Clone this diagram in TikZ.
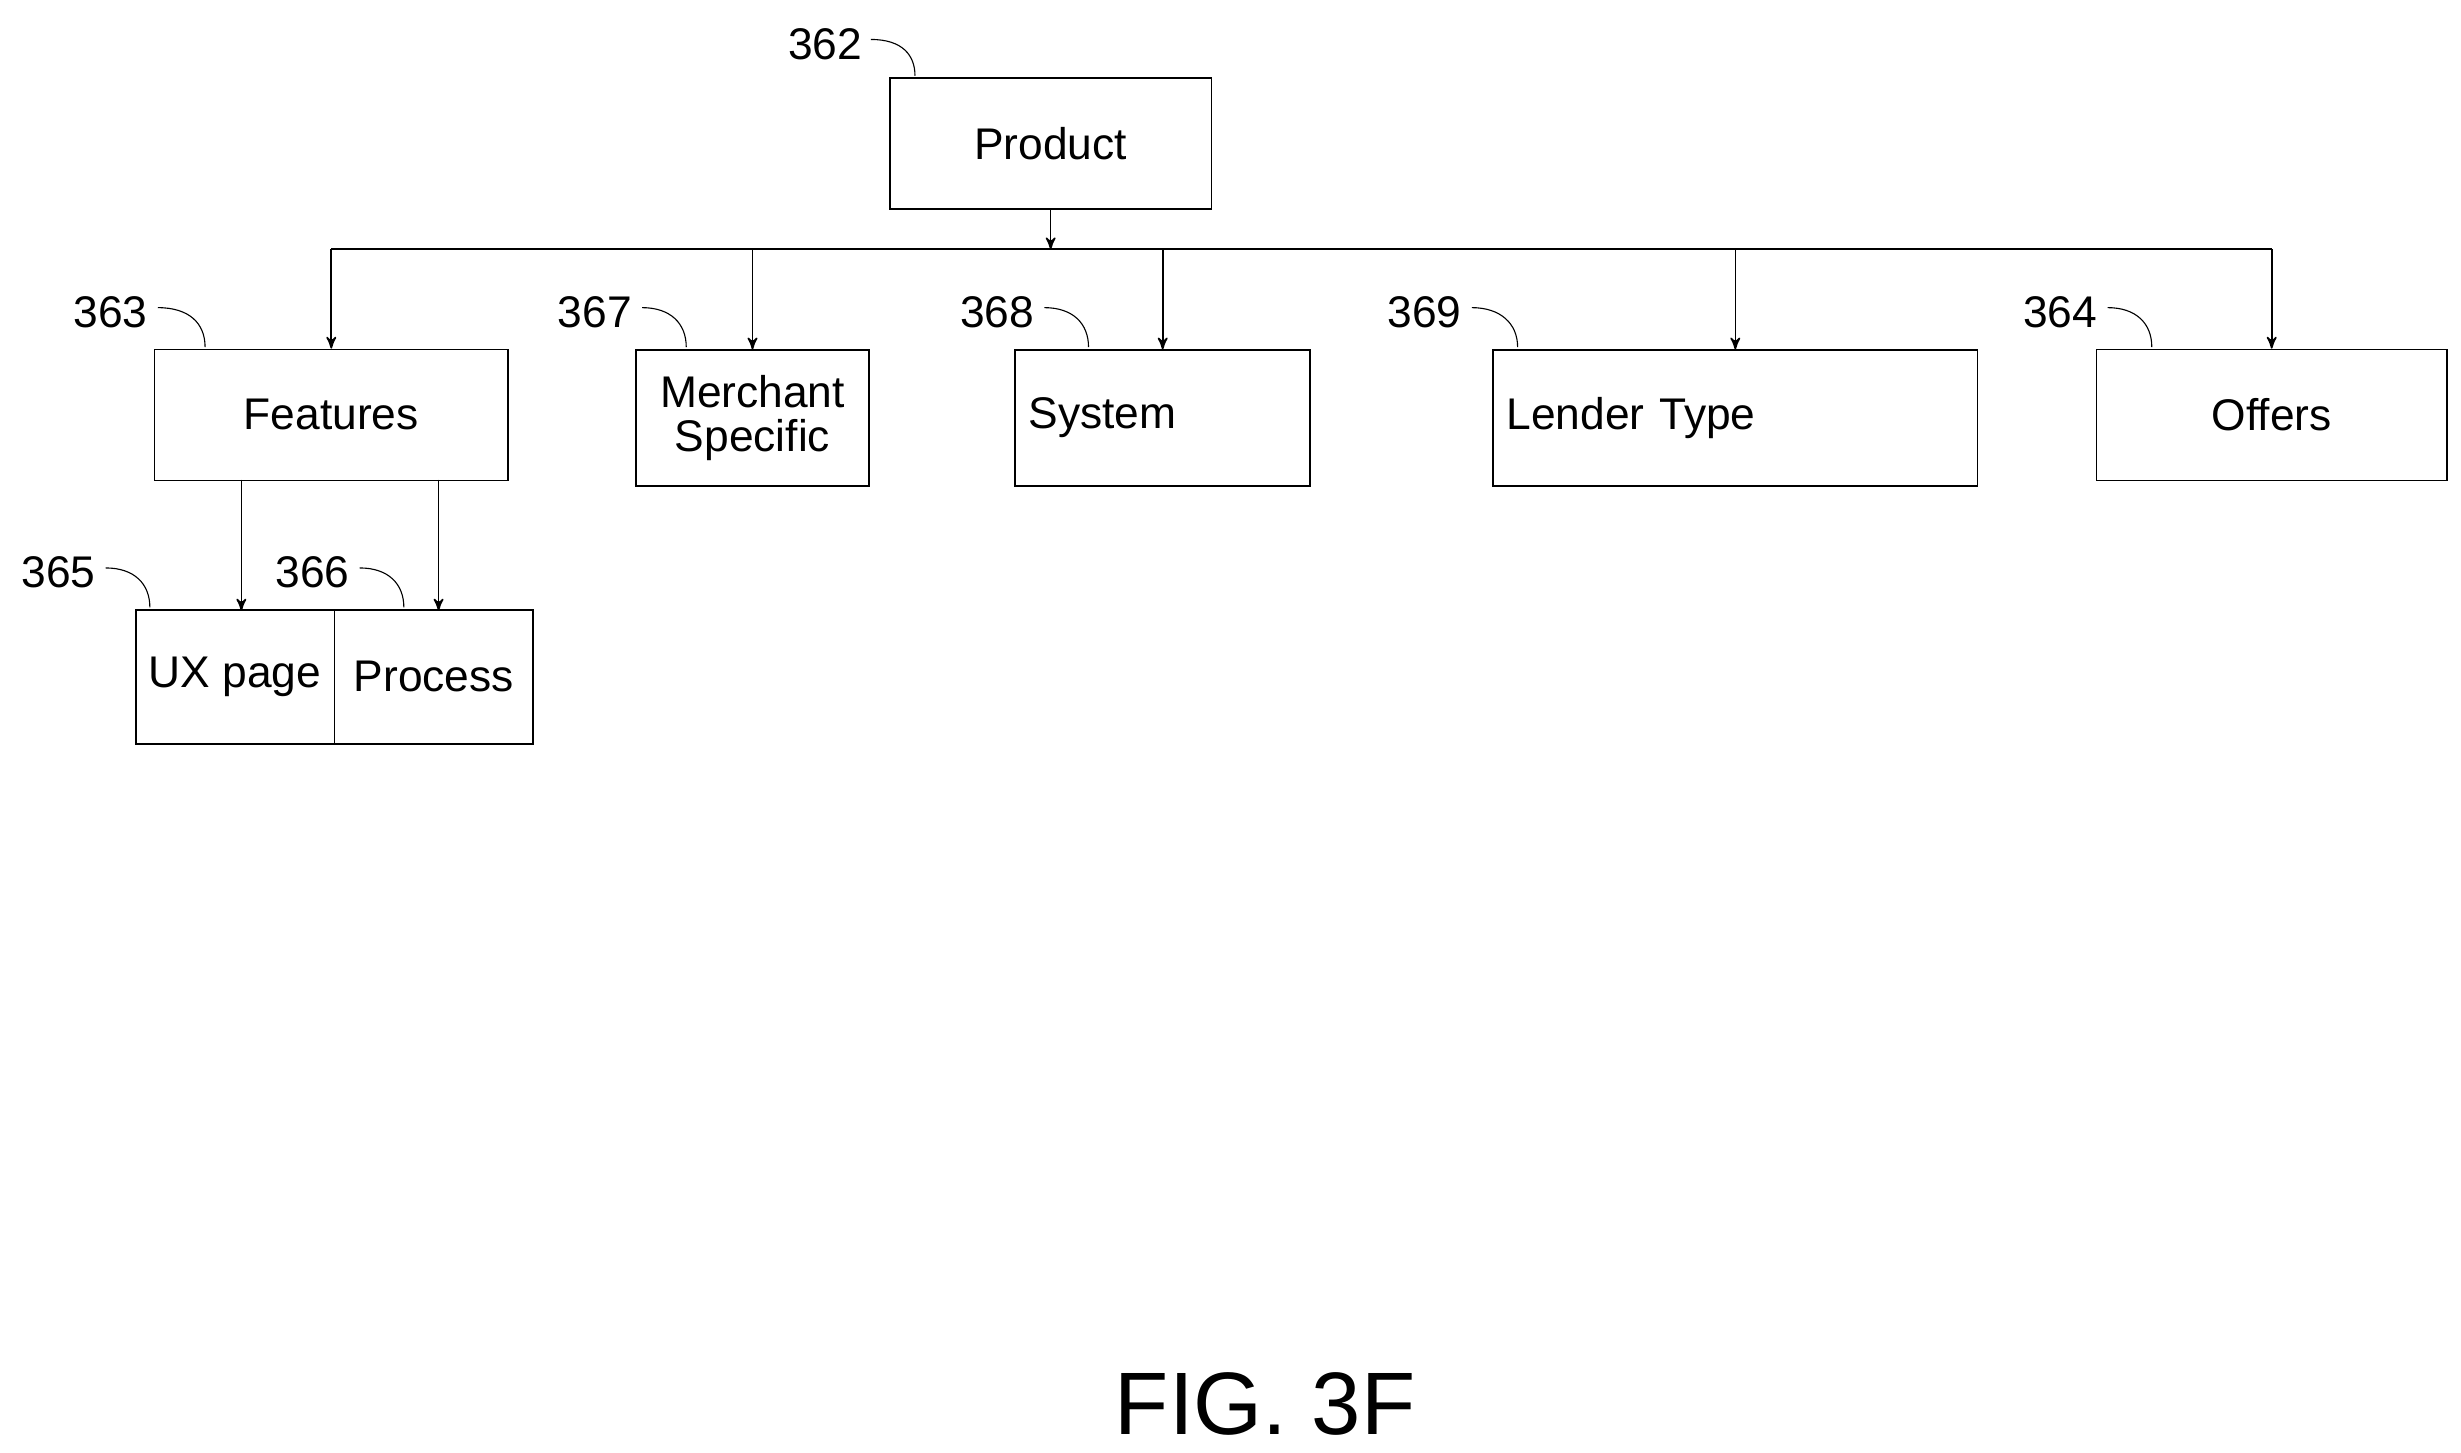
\documentclass[tikz,border=0pt]{standalone}
\usepackage{fontspec}
\setmainfont{Liberation Sans}
\usetikzlibrary{arrows,positioning}

\begin{document}
\begin{tikzpicture}[->,>=stealth',x=0.02cm,y=-0.02cm,semithick,
                    font=\fontsize{16}{18}\selectfont]

  \tikzstyle{box}=[rectangle,draw,semithick,minimum height=1.66cm,inner sep=2pt,align=center]
  \tikzstyle{ref}=[-,thin]

  \useasboundingbox (0,0) rectangle (1560,921);

  \node[box,minimum width=4.08cm] (prod) at (666,91)  {Product};
  \node[box,minimum width=4.48cm] (feat) at (210,263) {Features};
  \node[box,minimum width=2.96cm,minimum height=1.72cm,font=\fontsize{16}{16}\selectfont] (merch) at (477,265) {Merchant\\Specific};
  \node[box,minimum width=3.74cm,minimum height=1.72cm,text width=3.4cm,align=left] (sys) at (737,265) {System};
  \node[box,minimum width=6.14cm,minimum height=1.72cm,text width=5.8cm,align=left] (lend) at (1100,265) {Lender Type};
  \node[box,minimum width=4.44cm] (off) at (1440,263) {Offers};
  \node[box,minimum width=2.52cm,minimum height=1.70cm] (ux) at (149,429) {UX page};
  \node[box,minimum width=2.52cm,minimum height=1.70cm] (proc) at (275,429) {Process};

  \coordinate (bus) at (666,158);
  \draw (prod) -- (bus);
  \draw[-] (feat.north |- bus) -- (off.north |- bus);
  \foreach \n in {feat,merch,sys,lend,off}
    \draw (\n.north |- bus) -- (\n.north);
  \draw (153,304) -- (153,387);
  \draw (278,304) -- (278,387);

  % reference numerals
  \node (n362) at (523,28)  {362};
  \node (n363) at (70,198)  {363};
  \node (n367) at (377,198) {367};
  \node (n368) at (632,198) {368};
  \node (n369) at (903,198) {369};
  \node (n364) at (1306,198) {364};
  \node (n365) at (37,363)  {365};
  \node (n366) at (198,363) {366};
  \draw[ref] (552,25) .. controls (572,25) and (580,35) .. (580,48);
  \draw[ref] (100,195) .. controls (120,195) and (130,205) .. (130,220);
  \draw[ref] (407,195) .. controls (425,195) and (435,205) .. (435,220);
  \draw[ref] (662,195) .. controls (680,195) and (690,205) .. (690,220);
  \draw[ref] (933,195) .. controls (951,195) and (962,205) .. (962,220);
  \draw[ref] (1336,195) .. controls (1354,195) and (1364,205) .. (1364,220);
  \draw[ref] (67,360) .. controls (85,360) and (95,370) .. (95,385);
  \draw[ref] (228,360) .. controls (246,360) and (256,370) .. (256,385);

  \node[font=\fontsize{32}{34}\selectfont] (fig) at (802,890) {FIG. 3F};
\end{tikzpicture}
\end{document}
